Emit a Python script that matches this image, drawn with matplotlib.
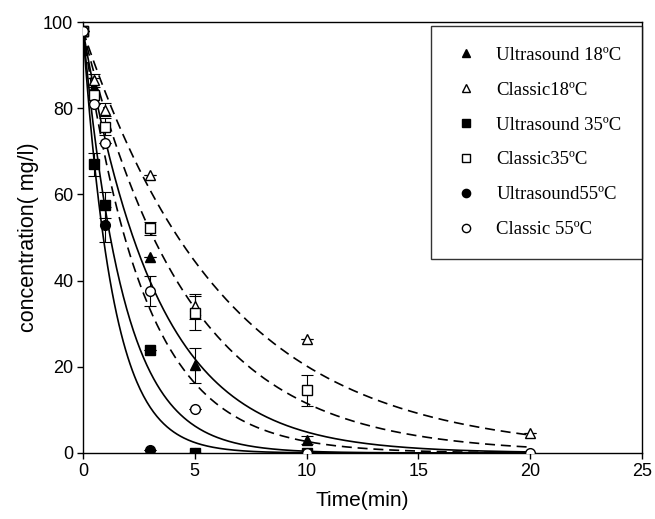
import numpy as np
import matplotlib
matplotlib.use('Agg')
import matplotlib.pyplot as plt

# time (min), concentration (mg/l), error bars
t_us18 = [0, 0.5, 3, 5, 10]
c_us18 = [98, 85, 45.5, 20.3, 3.0]
e_us18 = [0, 2, 0, 4, 1]

t_cl18 = [0, 0.5, 1, 3, 5, 10, 20]
c_cl18 = [98, 86.5, 79.6, 64.5, 34, 26.4, 4.6]
e_cl18 = [0, 1.5, 1.5, 0, 3, 0, 0]

t_us35 = [0, 0.5, 1, 3, 5, 10]
c_us35 = [98, 67, 57.5, 24, 0, 0]
e_us35 = [0, 2.7, 3, 0, 0, 0]

t_cl35 = [0, 0.5, 1, 3, 5, 10]
c_cl35 = [98, 83, 75.7, 52.1, 32.5, 14.6]
e_cl35 = [0, 0, 2, 1.5, 4, 3.6]

t_us55 = [0, 1, 3, 5]
c_us55 = [98, 53, 0.7, 0]
e_us55 = [0, 4, 0, 0]

t_cl55 = [0, 0.5, 1, 3, 5, 10, 20]
c_cl55 = [98, 81, 71.9, 37.6, 10.1, 0, 0]
e_cl55 = [0, 0, 0, 3.4, 0, 0, 0]

# first order fit: C = C0 * exp(-k t)
c0 = 98
k_us = [0.30, 0.55, 0.74]      # 18, 35, 55 ultrasound
k_cl = [0.158, 0.214, 0.36]    # 18, 35, 55 classic

fig = plt.figure(figsize=(6.55, 5.19), dpi=100)
ax = fig.add_axes([0.1267, 0.1272, 0.8535, 0.8304])

tt = np.linspace(0, 20, 400)
for k in k_us:
    ax.plot(tt, c0 * np.exp(-k * tt), color='black', lw=1.2)
for k in k_cl:
    ax.plot(tt, c0 * np.exp(-k * tt), color='black', lw=1.2, dashes=(6, 3.5))

series = [
    (t_us18, c_us18, e_us18, '^', 'black', 'Ultrasound 18ºC'),
    (t_cl18, c_cl18, e_cl18, '^', 'white', 'Classic18ºC'),
    (t_us35, c_us35, e_us35, 's', 'black', 'Ultrasound 35ºC'),
    (t_cl35, c_cl35, e_cl35, 's', 'white', 'Classic35ºC'),
    (t_us55, c_us55, e_us55, 'o', 'black', 'Ultrasound55ºC'),
    (t_cl55, c_cl55, e_cl55, 'o', 'white', 'Classic 55ºC'),
]
handles = []
for t, c, e, m, fc, lab in series:
    ax.errorbar(t, c, yerr=e, fmt='none', ecolor='black', elinewidth=0.8,
                capsize=4.5, capthick=0.8, zorder=3)
    h, = ax.plot(t, c, linestyle='none', marker=m, markersize=7,
                 markerfacecolor=fc, markeredgecolor='black', markeredgewidth=1.0,
                 zorder=4, label=lab)
    handles.append(h)

ax.set_xlim(0, 25)
ax.set_ylim(0, 100)
ax.set_xticks([0, 5, 10, 15, 20, 25])
ax.set_yticks([0, 20, 40, 60, 80, 100])
ax.tick_params(direction='out', length=4, width=1, labelsize=13, pad=3,
               top=False, right=False)
for lbl in ax.get_xticklabels() + ax.get_yticklabels():
    lbl.set_family('Liberation Sans')
for s in ax.spines.values():
    s.set_linewidth(1.0)

ax.set_xlabel('Time(min)', fontsize=15, family='Liberation Sans', labelpad=8)
ax.set_ylabel('concentration( mg/l)', fontsize=15.5, family='Liberation Sans', labelpad=3)

leg = ax.legend(handles=handles, loc='upper right', bbox_to_anchor=(1.0, 0.991),
                borderaxespad=0, fancybox=False, frameon=True, edgecolor='black',
                prop={'family': 'Liberation Serif', 'size': 13.5},
                handlelength=1.45, handletextpad=0.9, borderpad=1.1,
                labelspacing=0.95, markerscale=0.85)
leg.get_frame().set_linewidth(1.0)

plt.savefig('out.png', dpi=100)
